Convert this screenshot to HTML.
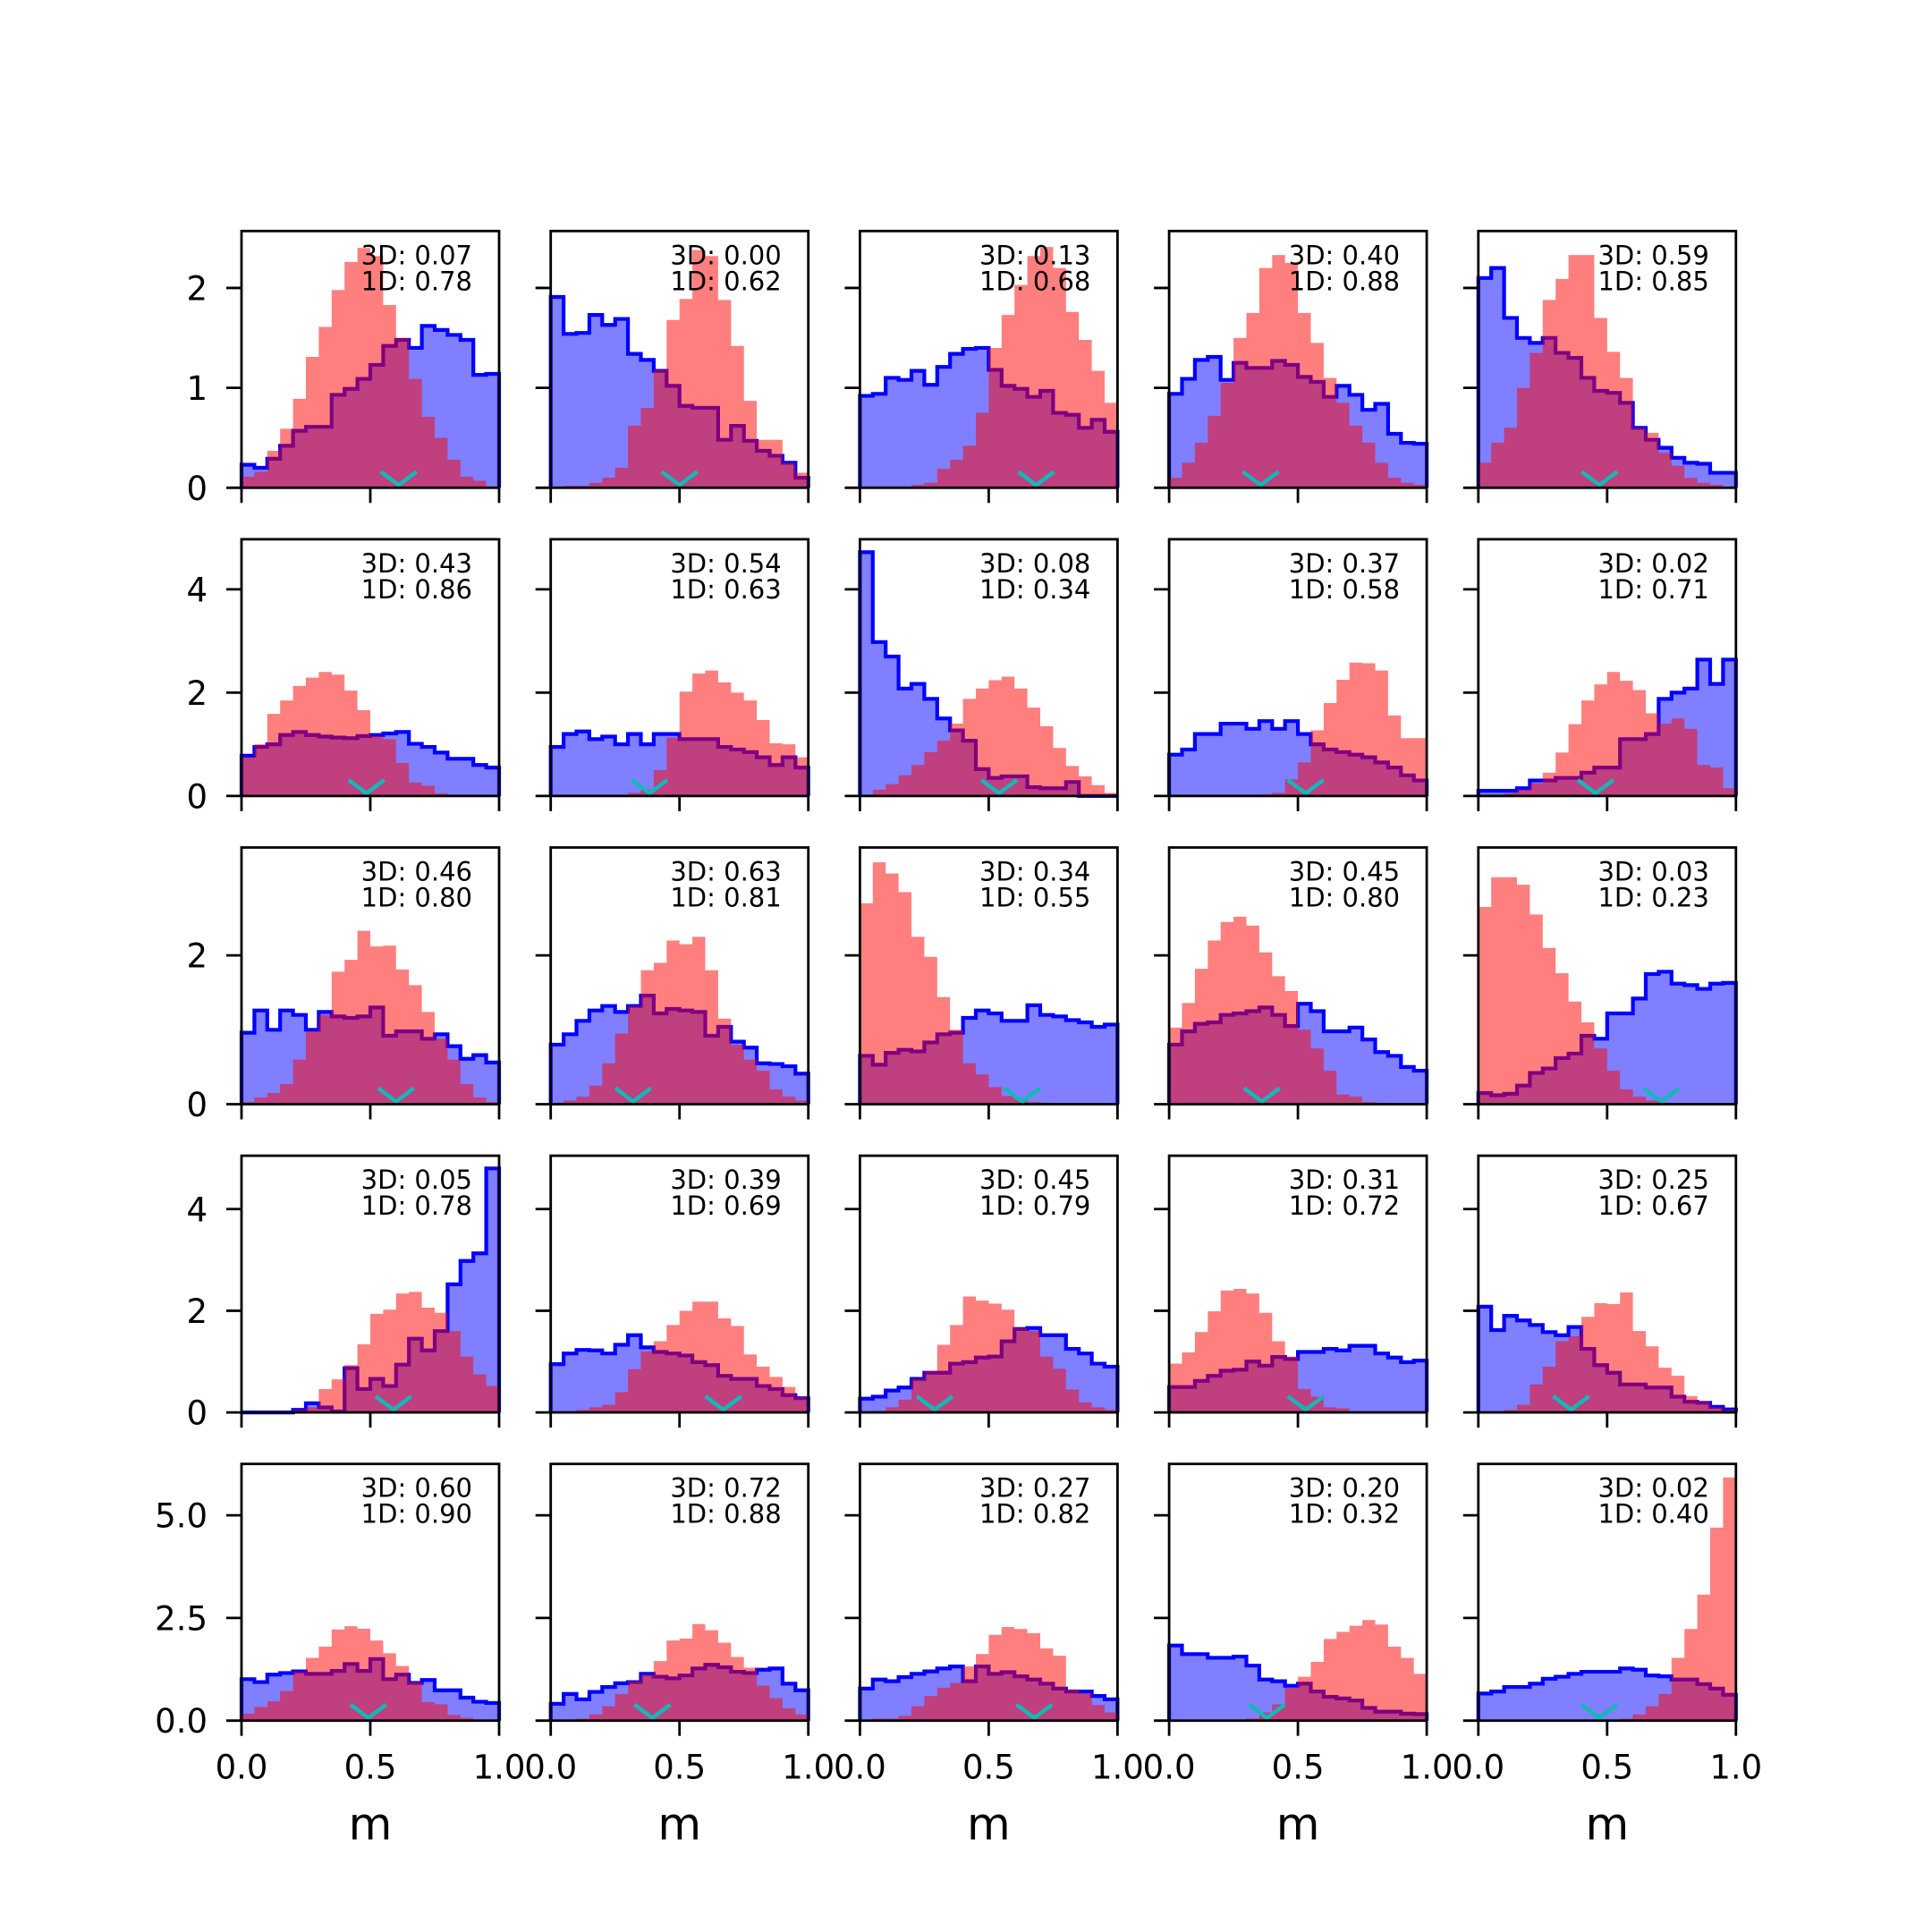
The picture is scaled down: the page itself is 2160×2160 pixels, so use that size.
<!DOCTYPE html>
<html><head><meta charset="utf-8"><style>
html,body{margin:0;padding:0;background:#fff;}
svg{display:block;font-family:"DejaVu Sans","Liberation Sans",sans-serif;}
</style></head>
<body>
<svg id="fig" width="2160" height="2160" viewBox="0 0 2160 2160" xmlns="http://www.w3.org/2000/svg">
<rect width="2160" height="2160" fill="#fff"/>
</svg>
<script>
// ---- data (bin densities, 20 bins over m in [0,1]) ----
const blueR1C1=[0.23,0.2,0.29,0.42,0.57,0.61,0.61,0.93,0.99,1.09,1.23,1.42,1.48,1.4,1.62,1.58,1.53,1.48,1.13,1.14];
const redR1C1=[0.11,0.16,0.37,0.59,0.89,1.31,1.61,1.98,2.26,2.4,2.32,1.83,1.5,1.09,0.71,0.5,0.28,0.11,0.07,0.01];
const blueR1C2=[1.91,1.54,1.55,1.73,1.63,1.69,1.34,1.28,1.17,1.02,0.82,0.8,0.8,0.48,0.62,0.47,0.37,0.32,0.25,0.1];
const redR1C2=[0,0.02,0.02,0.05,0.1,0.2,0.62,0.8,1.18,1.68,1.89,2.38,2.32,1.88,1.42,0.87,0.48,0.48,0.25,0.15];
const blueR1C3=[0.92,0.94,1.1,1.08,1.17,1.03,1.21,1.34,1.39,1.4,1.18,1.02,0.99,0.91,0.97,0.75,0.73,0.6,0.68,0.56];
const redR1C3=[0,0,0,0.01,0.03,0.05,0.19,0.28,0.42,0.75,1.4,1.73,2.03,2.32,2.41,2.2,1.76,1.48,1.17,0.85];
const blueR1C4=[0.94,1.09,1.28,1.31,1.08,1.25,1.2,1.2,1.27,1.23,1.11,1.06,0.91,1.02,0.93,0.78,0.84,0.54,0.45,0.44];
const redR1C4=[0.1,0.25,0.45,0.72,1.05,1.5,1.75,2.2,2.33,2.25,1.75,1.45,1.1,0.85,0.62,0.45,0.25,0.1,0.05,0.03];
const blueR1C5=[2.1,2.2,1.7,1.5,1.45,1.5,1.35,1.3,1.1,0.97,0.95,0.85,0.6,0.48,0.4,0.3,0.25,0.24,0.15,0.15];
const redR1C5=[0.25,0.45,0.6,1.0,1.35,1.88,2.09,2.33,2.33,1.7,1.36,1.1,0.6,0.55,0.35,0.22,0.1,0.05,0.03,0.01];

const blueR2C1=[0.78,0.95,1.0,1.18,1.24,1.18,1.15,1.13,1.12,1.16,1.18,1.21,1.24,1.01,0.95,0.84,0.72,0.72,0.6,0.55];
const redR2C1=[0.75,1.0,1.59,1.85,2.13,2.29,2.4,2.35,2.04,1.66,1.16,1.1,0.64,0.26,0.2,0.05,0.02,0,0,0];
const blueR2C2=[0.95,1.2,1.25,1.1,1.15,1.0,1.2,1.0,1.2,1.2,1.1,1.1,1.1,0.95,0.9,0.85,0.75,0.6,0.75,0.55];
const redR2C2=[0,0,0,0,0,0.02,0.06,0.12,0.5,1.13,2.02,2.37,2.43,2.2,2.0,1.85,1.47,1.02,1.0,0.75];
const blueR2C3=[4.72,2.98,2.7,2.08,2.17,1.88,1.5,1.27,1.07,0.52,0.35,0.38,0.38,0.17,0.15,0.15,0.27,0,0,0];
const redR2C3=[0.02,0.12,0.23,0.4,0.6,0.85,1.07,1.4,1.88,2.08,2.24,2.31,2.08,1.71,1.35,0.93,0.58,0.38,0.21,0.06];
const blueR2C4=[0.8,0.9,1.2,1.2,1.4,1.4,1.3,1.45,1.3,1.45,1.2,1.0,0.9,0.85,0.8,0.75,0.65,0.55,0.4,0.3];
const redR2C4=[0,0,0,0,0,0,0.02,0.03,0.06,0.32,0.65,1.27,1.8,2.25,2.58,2.57,2.43,1.56,1.12,1.12];
const blueR2C5=[0.1,0.1,0.1,0.15,0.3,0.3,0.35,0.35,0.45,0.55,0.55,1.1,1.1,1.2,1.88,2.0,2.08,2.64,2.17,2.64];
const redR2C5=[0,0.02,0.05,0.12,0.25,0.45,0.84,1.39,1.85,2.16,2.4,2.23,2.05,1.6,1.4,1.5,1.3,0.6,0.55,0.15];

const blueR3C1=[0.96,1.26,1.0,1.26,1.2,1.0,1.24,1.18,1.16,1.18,1.3,0.92,0.98,0.98,0.88,0.94,0.78,0.61,0.66,0.56];
const redR3C1=[0.03,0.09,0.15,0.27,0.6,0.98,1.2,1.78,1.94,2.33,2.12,2.13,1.81,1.6,1.24,0.88,0.6,0.27,0.09,0.03];
const blueR3C2=[0.8,0.94,1.12,1.26,1.32,1.24,1.32,1.46,1.22,1.28,1.26,1.24,0.92,1.04,0.84,0.76,0.55,0.54,0.51,0.41];
const redR3C2=[0.02,0.05,0.1,0.25,0.55,0.95,1.32,1.8,1.9,2.2,2.15,2.25,1.8,1.15,0.8,0.6,0.45,0.2,0.1,0.05];
const blueR3C3=[0.65,0.53,0.69,0.73,0.71,0.83,0.94,0.96,1.16,1.26,1.22,1.12,1.12,1.33,1.2,1.18,1.13,1.1,1.04,1.07];
const redR3C3=[2.7,3.25,3.1,2.85,2.25,1.98,1.44,1.0,0.55,0.4,0.23,0.11,0.06,0.03,0.02,0.01,0,0,0,0];
const blueR3C4=[0.8,0.98,1.08,1.1,1.2,1.22,1.25,1.3,1.2,1.05,1.35,1.25,0.98,0.98,1.03,0.87,0.7,0.65,0.5,0.45];
const redR3C4=[1.03,1.36,1.82,2.2,2.45,2.52,2.4,2.04,1.72,1.52,1.0,0.75,0.45,0.13,0.1,0.03,0.02,0,0,0];
const blueR3C5=[0.15,0.12,0.14,0.25,0.42,0.48,0.62,0.68,0.92,0.88,1.22,1.22,1.42,1.75,1.78,1.62,1.6,1.55,1.62,1.63];
const redR3C5=[2.65,3.05,3.05,2.95,2.55,2.1,1.76,1.38,1.1,0.75,0.45,0.2,0.1,0.05,0.02,0,0,0,0,0];

const blueR4C1=[0,0,0,0,0.05,0.18,0.1,0.02,0.87,0.46,0.66,0.52,0.94,1.45,1.22,1.6,2.52,2.98,3.13,4.8];
const redR4C1=[0,0,0,0,0.05,0.1,0.46,0.65,0.93,1.34,1.94,2.02,2.34,2.37,2.06,1.96,1.6,1.1,0.75,0.52];
const blueR4C2=[0.95,1.16,1.23,1.22,1.16,1.33,1.52,1.28,1.19,1.16,1.12,0.99,0.93,0.72,0.66,0.66,0.52,0.46,0.34,0.28];
const redR4C2=[0,0.01,0.05,0.1,0.15,0.4,0.85,1.2,1.4,1.72,2.0,2.18,2.18,1.85,1.7,1.14,0.9,0.7,0.5,0.3];
const blueR4C3=[0.27,0.31,0.43,0.49,0.66,0.78,0.78,0.96,0.99,1.08,1.1,1.4,1.64,1.66,1.52,1.52,1.25,1.16,0.96,0.9];
const redR4C3=[0.01,0.03,0.1,0.25,0.66,0.82,1.33,1.72,2.28,2.2,2.14,2.02,1.66,1.6,1.1,0.86,0.45,0.2,0.1,0.05];
const blueR4C4=[0.5,0.5,0.62,0.72,0.82,0.84,1.0,0.92,1.09,1.05,1.19,1.19,1.25,1.22,1.31,1.31,1.16,1.08,0.99,1.02];
const redR4C4=[0.96,1.18,1.58,1.99,2.4,2.43,2.34,1.96,1.4,1.1,0.46,0.31,0.1,0.08,0.02,0,0,0,0,0];
const blueR4C5=[2.08,1.62,1.9,1.81,1.72,1.58,1.52,1.68,1.25,0.93,0.78,0.55,0.55,0.49,0.49,0.31,0.21,0.19,0.11,0.06];
const redR4C5=[0,0.02,0.05,0.15,0.55,0.9,1.4,1.5,1.88,2.15,2.13,2.36,1.6,1.3,0.88,0.72,0.32,0.22,0.1,0.05];

const blueR5C1=[1.01,0.94,1.12,1.16,1.2,1.14,1.14,1.21,1.38,1.21,1.5,1.01,1.12,0.92,0.99,0.74,0.74,0.56,0.46,0.43];
const redR5C1=[0.17,0.33,0.47,0.72,1.19,1.53,1.8,2.22,2.3,2.24,1.95,1.64,1.33,0.94,0.45,0.4,0.14,0.07,0.02,0];
const blueR5C2=[0.41,0.65,0.52,0.7,0.82,0.91,0.94,1.14,1.07,1.03,1.1,1.27,1.36,1.3,1.19,1.16,1.24,1.27,0.9,0.74];
const redR5C2=[0,0.01,0.05,0.15,0.35,0.65,0.96,1.12,1.45,1.95,2.0,2.35,2.2,1.9,1.55,1.29,0.85,0.55,0.3,0.15];
const blueR5C3=[0.78,1.0,0.96,1.06,1.14,1.2,1.27,1.32,0.96,1.32,1.14,1.18,1.08,1.0,0.9,0.78,0.71,0.71,0.6,0.52];
const redR5C3=[0.01,0.05,0.05,0.12,0.35,0.6,0.8,0.92,1.32,1.62,2.09,2.28,2.23,2.13,1.76,1.58,0.76,0.67,0.38,0.2];
const blueR5C4=[1.83,1.62,1.62,1.53,1.53,1.56,1.34,1.0,0.96,0.85,0.9,0.71,0.58,0.54,0.49,0.31,0.22,0.22,0.17,0.16];
const redR5C4=[0,0,0,0,0.01,0.02,0.05,0.2,0.4,0.8,1.07,1.43,1.99,2.16,2.31,2.45,2.34,1.8,1.53,1.14];
const blueR5C5=[0.66,0.71,0.82,0.82,0.9,1.02,1.07,1.14,1.19,1.19,1.19,1.27,1.24,1.1,1.08,1.0,1.0,0.89,0.78,0.63];
const redR5C5=[0,0,0,0,0,0,0,0,0,0.01,0.02,0.05,0.15,0.35,0.65,1.53,2.23,3.07,4.7,5.92];

const score3D=["0.07","0.00","0.13","0.40","0.59","0.43","0.54","0.08","0.37","0.02","0.46","0.63","0.34","0.45","0.03","0.05","0.39","0.45","0.31","0.25","0.60","0.72","0.27","0.20","0.02"];
const score1D=["0.78","0.62","0.68","0.88","0.85","0.86","0.63","0.34","0.58","0.71","0.80","0.81","0.55","0.80","0.23","0.78","0.69","0.79","0.72","0.67","0.90","0.88","0.82","0.32","0.40"];
const markerM=[0.61,0.5,0.684,0.355,0.47, 0.485,0.383,0.54,0.53,0.455, 0.6,0.32,0.63,0.36,0.71, 0.59,0.67,0.29,0.53,0.36, 0.492,0.395,0.677,0.38,0.47];
const rowYMax=[2.57,4.97,3.45,5.05,6.25];
const rowYTicks=[[0,1,2],[0,2,4],[0,2],[0,2,4],[0,2.5,5]];
const rowYTickLabels=[["0","1","2"],["0","2","4"],["0","2"],["0","2","4"],["0.0","2.5","5.0"]];
const xTicks=[0,0.5,1];
const xTickLabels=["0.0","0.5","1.0"];

const blueSets=[blueR1C1,blueR1C2,blueR1C3,blueR1C4,blueR1C5,blueR2C1,blueR2C2,blueR2C3,blueR2C4,blueR2C5,blueR3C1,blueR3C2,blueR3C3,blueR3C4,blueR3C5,blueR4C1,blueR4C2,blueR4C3,blueR4C4,blueR4C5,blueR5C1,blueR5C2,blueR5C3,blueR5C4,blueR5C5];
const redSets=[redR1C1,redR1C2,redR1C3,redR1C4,redR1C5,redR2C1,redR2C2,redR2C3,redR2C4,redR2C5,redR3C1,redR3C2,redR3C3,redR3C4,redR3C5,redR4C1,redR4C2,redR4C3,redR4C4,redR4C5,redR5C1,redR5C2,redR5C3,redR5C4,redR5C5];

// ---- layout ----
const L0=270, PX=345.7, W=288, T0=258.3, PY=344.6, H=287;
const NS="http://www.w3.org/2000/svg";
const fig=document.getElementById('fig');
function mk(tag,attrs,parent){const e=document.createElementNS(NS,tag);for(const k in attrs)e.setAttribute(k,attrs[k]);(parent||fig).appendChild(e);return e;}

function histPath(vals,xs,ys,closed){
  const n=vals.length;let d='M'+xs(0)+','+ys(0);
  for(let i=0;i<n;i++){d+=' L'+xs(i/n)+','+ys(vals[i])+' L'+xs((i+1)/n)+','+ys(vals[i]);}
  d+=' L'+xs(1)+','+ys(0);
  if(closed)d+=' Z';
  return d;
}

for(let r=0;r<5;r++){
  for(let c=0;c<5;c++){
    const k=r*5+c;
    const left=L0+c*PX, top=T0+r*PY, bottom=top+H, right=left+W;
    const ymax=rowYMax[r];
    const xs=v=>(left+v*W).toFixed(2);
    const ys=v=>(bottom-v/ymax*H).toFixed(2);
    const g=mk('g',{});
    
    
    const bf=mk('path',{d:histPath(blueSets[k],xs,ys,true),fill:'rgba(0,0,255,0.5)',stroke:'none'},g);
    
    
    const bl=mk('path',{d:histPath(blueSets[k],xs,ys,false),fill:'none',stroke:'#0000ff','stroke-width':4.2,'stroke-linejoin':'miter'},g);
    
    
    const rf=mk('path',{d:histPath(redSets[k],xs,ys,true),fill:'rgba(255,0,0,0.5)',stroke:'none'},g);
    
    
    // marker V
    const mx=parseFloat(xs(markerM[k]));
    const mv=mk('polyline',{points:(mx-20)+','+(bottom-18)+' '+mx+','+(bottom-3)+' '+(mx+20)+','+(bottom-18),fill:'none',stroke:'#14b8b4','stroke-width':4.5},g);
    
    
    // frame
    const fr=mk('rect',{x:left,y:top,width:W,height:H,fill:'none',stroke:'#000','stroke-width':2.8},g);
    
    
    // x ticks
    for(let t=0;t<xTicks.length;t++){
      const tx=parseFloat(xs(xTicks[t]));
      const tk=mk('line',{x1:tx,x2:tx,y1:bottom,y2:bottom+17,stroke:'#000','stroke-width':2.8},g);
      
      
      if(r===4){
        const tl=mk('text',{x:tx,y:bottom+65,'font-size':37,'text-anchor':'middle',fill:'#000'},g);
        tl.textContent=xTickLabels[t];
        
        
      }
    }
    // y ticks
    for(let t=0;t<rowYTicks[r].length;t++){
      const ty=parseFloat(ys(rowYTicks[r][t]));
      const tk=mk('line',{x1:left-17,x2:left,y1:ty,y2:ty,stroke:'#000','stroke-width':2.8},g);
      
      
      if(c===0){
        const tl=mk('text',{x:left-38,y:ty+13.5,'font-size':37,'text-anchor':'end',fill:'#000'},g);
        tl.textContent=rowYTickLabels[r][t];
        
        
      }
    }
    // annotation
    const a1=mk('text',{x:right-30,y:top+37,'font-size':29,'text-anchor':'end',fill:'#000'},g);
    a1.textContent='3D: '+score3D[k];
    
    
    const a2=mk('text',{x:right-30,y:top+66,'font-size':29,'text-anchor':'end',fill:'#000'},g);
    a2.textContent='1D: '+score1D[k];
    
    
    if(r===4){
      const xl=mk('text',{x:left+W/2,y:bottom+133,'font-size':50,'text-anchor':'middle',fill:'#000'},g);
      xl.textContent='m';
      
      
    }
  }
}
</script>
</body></html>
